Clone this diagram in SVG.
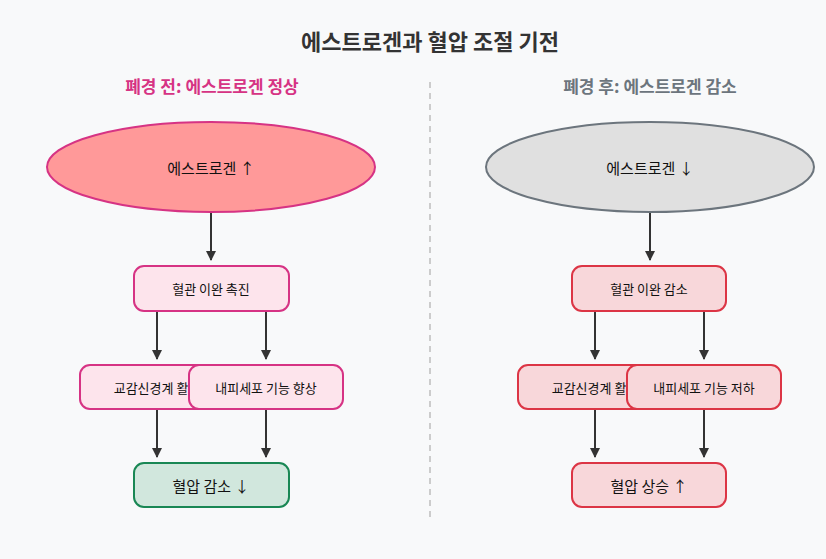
<svg xmlns="http://www.w3.org/2000/svg" width="826" height="559" viewBox="0 0 826 559">
<defs>
<marker id="ah" markerWidth="10" markerHeight="10" refX="9" refY="5" orient="auto" markerUnits="userSpaceOnUse"><path d="M0,0 L10,5 L0,10 z" fill="#333"/></marker>
<style>
text{font-family:"Noto Sans CJK KR","Noto Sans",sans-serif;text-anchor:middle;dominant-baseline:central;fill:#111}
.b{stroke-width:2}
.p{fill:#fde4ec;stroke:#d63384}
.r{fill:#f8d7da;stroke:#dc3545}
.c line{stroke:#333;stroke-width:2;marker-end:url(#ah)}
.t{font-size:13px}
</style>
</defs>
<rect width="826" height="559" fill="#f8f9fa"/>
<text x="430" y="40" font-size="22" font-weight="bold" fill="#333" style="fill:#333">에스트로겐과 혈압 조절 기전</text>
<text x="212" y="85" font-size="17" font-weight="bold" style="fill:#d63384">폐경 전: 에스트로겐 정상</text>
<text x="650" y="85" font-size="17" font-weight="bold" style="fill:#6c757d">폐경 후: 에스트로겐 감소</text>
<line x1="430" y1="82" x2="430" y2="522" stroke="#ccc" stroke-width="2" stroke-dasharray="6,5"/>
<g class="c">
<line x1="211" y1="212" x2="211" y2="260"/>
<line x1="157" y1="311" x2="157" y2="359"/>
<line x1="266" y1="311" x2="266" y2="359"/>
<line x1="157" y1="409" x2="157" y2="457"/>
<line x1="266" y1="409" x2="266" y2="457"/>
<line x1="650" y1="212" x2="650" y2="260"/>
<line x1="595" y1="311" x2="595" y2="359"/>
<line x1="704" y1="311" x2="704" y2="359"/>
<line x1="595" y1="409" x2="595" y2="457"/>
<line x1="704" y1="409" x2="704" y2="457"/>
</g>
<g id="l-estro"><ellipse cx="211" cy="167" rx="164" ry="45" fill="#ff9999" stroke="#d63384" class="b"/><text x="211" y="167" font-size="15">에스트로겐 ↑</text></g>
<g id="l-vaso"><rect x="134" y="266" width="155" height="45" rx="10" class="p b"/><text x="211" y="288" class="t">혈관 이완 촉진</text></g>
<g id="l-symp"><rect x="80" y="365" width="154" height="44" rx="10" class="p b"/><text x="157" y="387" class="t">교감신경계 활성</text></g>
<g id="l-endo"><rect x="189" y="365" width="154" height="44" rx="10" class="p b"/><text x="266" y="387" class="t">내피세포 기능 향상</text></g>
<g id="l-bp"><rect x="134" y="463" width="155" height="44" rx="10" fill="#d1e7dd" stroke="#198754" class="b"/><text x="211" y="485" font-size="15">혈압 감소 ↓</text></g>
<g id="r-estro"><ellipse cx="650" cy="167" rx="164" ry="45" fill="#e0e0e0" stroke="#6c757d" class="b"/><text x="650" y="167" font-size="15">에스트로겐 ↓</text></g>
<g id="r-vaso"><rect x="572" y="266" width="154" height="45" rx="10" class="r b"/><text x="649" y="288" class="t">혈관 이완 감소</text></g>
<g id="r-symp"><rect x="518" y="365" width="154" height="44" rx="10" class="r b"/><text x="595" y="387" class="t">교감신경계 활성</text></g>
<g id="r-endo"><rect x="627" y="365" width="154" height="44" rx="10" class="r b"/><text x="704" y="387" class="t">내피세포 기능 저하</text></g>
<g id="r-bp"><rect x="572" y="463" width="154" height="44" rx="10" class="r b"/><text x="649" y="485" font-size="15">혈압 상승 ↑</text></g>
</svg>
